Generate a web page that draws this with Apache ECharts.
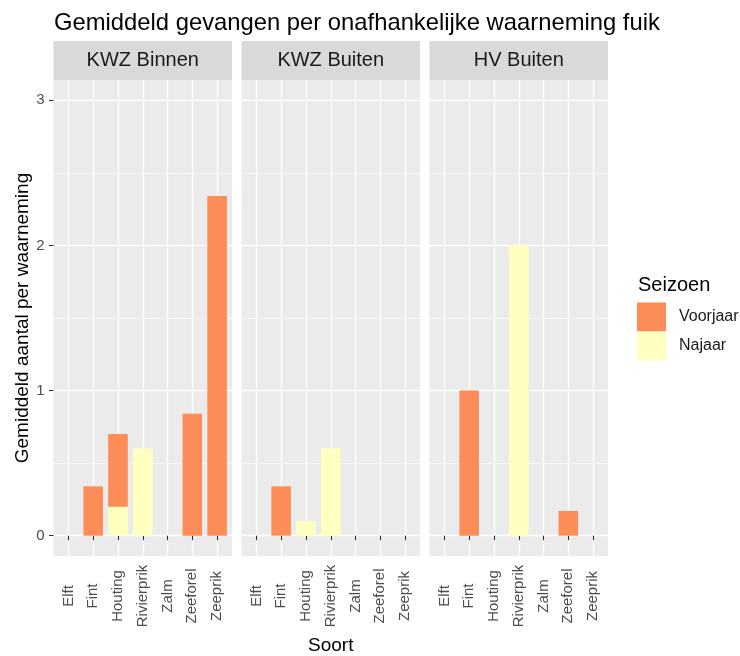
<!DOCTYPE html>
<html>
<head>
<meta charset="utf-8">
<script src="https://cdn.jsdelivr.net/npm/echarts@6/dist/echarts.min.js"></script>
<style>
  html, body { margin: 0; padding: 0; background: #ffffff; }
  #chart { width: 740px; height: 656px; }
</style>
</head>
<body>
<div id="chart"></div>
<script>
// Species on the x axis of every panel
const categories = ['Elft', 'Fint', 'Houting', 'Rivierprik', 'Zalm', 'Zeeforel', 'Zeeprik'];
// Facet panels (location)
const panels = ['KWZ Binnen', 'KWZ Buiten', 'HV Buiten'];
// Seasons, in legend order
const seasons = ['Voorjaar', 'Najaar'];

// Mean catch per observation, per panel and season (order follows categories)
const voorjaarKwzBinnen = [0, 0.34, 0.5, 0, 0, 0.84, 2.34];
const najaarKwzBinnen   = [0, 0, 0.2, 0.6, 0, 0, 0];
const voorjaarKwzBuiten = [0, 0.34, 0, 0, 0, 0, 0];
const najaarKwzBuiten   = [0, 0, 0.1, 0.6, 0, 0, 0];
const voorjaarHvBuiten  = [0, 1, 0, 0, 0, 0.17, 0];
const najaarHvBuiten    = [0, 0, 0, 2, 0, 0, 0];

// Y axis breaks
const yMajorTicks = [0, 1, 2, 3];
const yMinorTicks = [0.5, 1.5, 2.5];

const voorjaarByPanel = [voorjaarKwzBinnen, voorjaarKwzBuiten, voorjaarHvBuiten];
const najaarByPanel = [najaarKwzBinnen, najaarKwzBuiten, najaarHvBuiten];

const FONT = "'Liberation Sans', Arial, sans-serif";
const seasonColor = { Voorjaar: '#FC8D59', Najaar: '#FFFFBF' };

// Panel geometry
const panelLeft = [53.5, 241.5, 429.5];
const panelWidth = 178.5;
const panelTop = 80;
const panelHeight = 476;
const stripTop = 41;
const stripHeight = 39;

const catPositions = categories.map((_, i) => i + 1);
const barWidth = panelWidth / (categories.length + 1.2) * 0.9;

const grids = [], xAxes = [], yAxes = [], series = [], graphics = [];

// Bars are stacked on the value (first) dimension; x position is the second one
function barSeries(season, values, g) {
  return {
    type: 'bar', name: season, xAxisIndex: g, yAxisIndex: g, stack: 'panel' + g,
    barWidth: barWidth,
    itemStyle: { color: seasonColor[season] },
    encode: { x: 1, y: 0 },
    data: values.map((v, i) => [v, catPositions[i]])
  };
}

panels.forEach((name, g) => {
  grids.push({
    left: panelLeft[g], top: panelTop, width: panelWidth, height: panelHeight,
    show: true, backgroundColor: '#EBEBEB', borderWidth: 0,
    containLabel: false, outerBoundsMode: 'none'
  });

  xAxes.push({
    type: 'value', gridIndex: g, min: 0.4, max: categories.length + 0.6,
    axisLine: { show: false },
    axisTick: { show: true, customValues: catPositions, length: 4.5,
                lineStyle: { color: '#333333', width: 1.1 } },
    axisLabel: {
      customValues: catPositions,
      formatter: v => categories[Math.round(v) - 1],
      rotate: 90, align: 'center', verticalAlign: 'middle', margin: 40,
      color: '#4D4D4D', fontSize: 15, fontFamily: FONT
    },
    splitLine: { show: true, lineStyle: { color: '#FFFFFF', width: 1.3 } },
    name: g === 1 ? 'Soort' : '',
    nameLocation: 'middle', nameGap: 80, nameMoveOverlap: false,
    nameTextStyle: { fontSize: 19, color: '#000000', fontFamily: FONT }
  });

  // Najaar first so it sits at the bottom of each stack
  series.push(barSeries('Najaar', najaarByPanel[g], g));
  series.push(barSeries('Voorjaar', voorjaarByPanel[g], g));

  // Facet strip
  graphics.push({
    type: 'rect', z: 0,
    shape: { x: panelLeft[g], y: stripTop, width: panelWidth, height: stripHeight },
    style: { fill: '#D9D9D9' }, silent: true
  });
  graphics.push({
    type: 'text', z: 1,
    style: {
      text: name, x: panelLeft[g] + panelWidth / 2, y: stripTop + stripHeight / 2,
      align: 'center', verticalAlign: 'middle',
      font: '20px ' + FONT, fill: '#1A1A1A'
    }, silent: true
  });
});

// Major y axes (labels, ticks, major grid lines)
panels.forEach((_, g) => {
  yAxes.push({
    type: 'value', gridIndex: g, min: -0.14, max: 3.14, position: 'left',
    axisLine: { show: false },
    axisTick: { show: g === 0, customValues: yMajorTicks, length: 4.5,
                lineStyle: { color: '#333333', width: 1.1 } },
    axisLabel: { show: g === 0, customValues: yMajorTicks, margin: 9,
                 color: '#4D4D4D', fontSize: 15, fontFamily: FONT },
    splitLine: { show: true, lineStyle: { color: '#FFFFFF', width: 1.3 } },
    name: g === 0 ? 'Gemiddeld aantal per waarneming' : '',
    nameLocation: 'middle', nameGap: 21, nameMoveOverlap: false,
    nameTextStyle: { fontSize: 19, color: '#000000', fontFamily: FONT }
  });
});
// Minor y axes (minor grid lines only)
panels.forEach((_, g) => {
  yAxes.push({
    type: 'value', gridIndex: g, min: -0.14, max: 3.14, position: 'right',
    axisLine: { show: false },
    axisTick: { show: false, customValues: yMinorTicks },
    axisLabel: { show: false, customValues: yMinorTicks },
    splitLine: { show: true, lineStyle: { color: '#FFFFFF', width: 0.7 } }
  });
});

// Legend title
graphics.push({
  type: 'text',
  style: { text: 'Seizoen', x: 638, y: 285, align: 'left', verticalAlign: 'middle',
           font: '20px ' + FONT, fill: '#000000' }, silent: true
});

const chart = echarts.init(document.getElementById('chart'), null, { renderer: 'canvas' });
chart.setOption({
  animation: false,
  backgroundColor: '#FFFFFF',
  textStyle: { fontFamily: FONT },
  title: {
    text: 'Gemiddeld gevangen per onafhankelijke waarneming fuik',
    left: 54, top: 11, padding: 0,
    textStyle: { fontSize: 23.8, fontWeight: 'normal', color: '#000000', fontFamily: FONT }
  },
  legend: {
    data: seasons, orient: 'vertical', left: 637, top: 302.5, padding: 0,
    itemWidth: 29, itemHeight: 29, itemGap: 0, icon: 'rect', selectedMode: false,
    textStyle: { fontSize: 16, color: '#1A1A1A', fontFamily: FONT, padding: [0, 0, 0, 8] }
  },
  grid: grids,
  xAxis: xAxes,
  yAxis: yAxes,
  series: series,
  graphic: graphics
});
</script>
</body>
</html>
